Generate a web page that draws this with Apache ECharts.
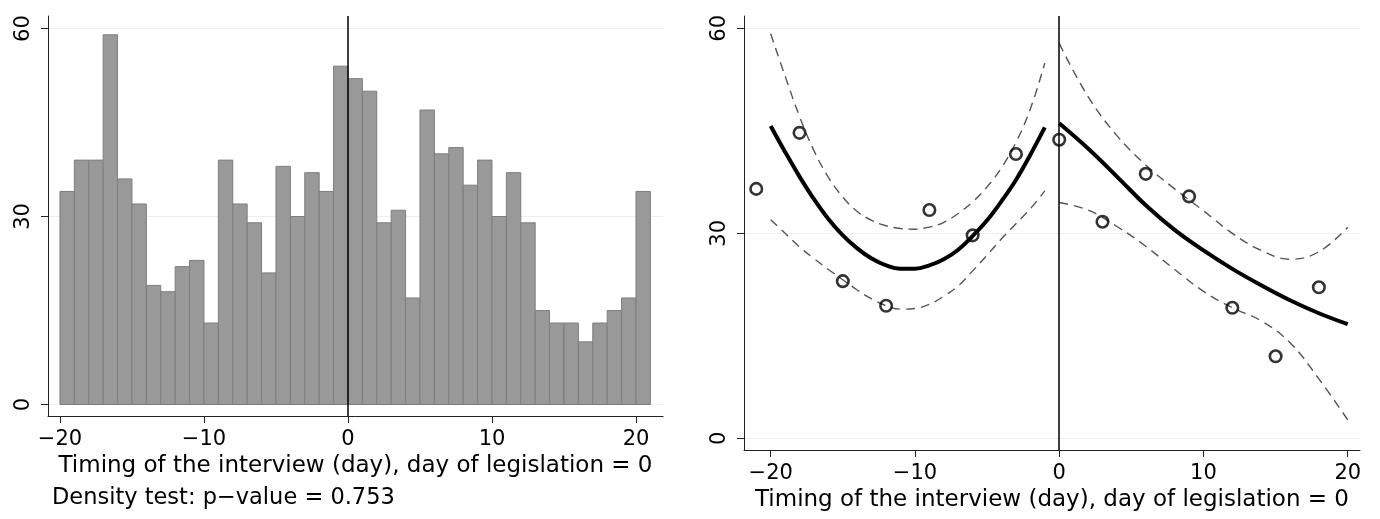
<!DOCTYPE html>
<html>
<head>
<meta charset="utf-8">
<script src="https://cdn.jsdelivr.net/npm/echarts@6/dist/echarts.min.js"></script>
<style>
  html, body { margin: 0; padding: 0; background: #fff; }
  #chart { width: 1380px; height: 519px; }
</style>
</head>
<body>
<div id="chart"></div>
<script>
// histogram: one bin per day, starting day of each bin
var binStarts = [-20, -19, -18, -17, -16, -15, -14, -13, -12, -11, -10, -9, -8, -7, -6, -5, -4, -3, -2, -1,
                 0, 1, 2, 3, 4, 5, 6, 7, 8, 9, 10, 11, 12, 13, 14, 15, 16, 17, 18, 19, 20];
var binCounts = [34, 39, 39, 59, 36, 32, 19, 18, 22, 23, 13, 39, 32, 29, 21, 38, 30, 37, 34, 54,
                 52, 50, 29, 31, 17, 47, 40, 41, 35, 39, 30, 37, 29, 15, 13, 13, 10, 13, 15, 17, 34];

// binned means (right panel)
var binX = [-21, -18, -15, -12, -9, -6, -3, 0, 3, 6, 9, 12, 15, 18];
var binY = [36.5, 44.7, 23.0, 19.4, 33.4, 29.7, 41.6, 43.7, 31.7, 38.7, 35.4, 19.1, 12.0, 22.1];

// fitted curve before the legislation, with its bands
var leftX = [-20, -19, -18, -17, -16, -15, -14, -13, -12, -11, -10, -9, -8, -7, -6, -5, -4, -3, -2, -1];
var leftFit = [45.7, 41.9, 38.3, 35.0, 32.1, 29.7, 27.8, 26.3, 25.3, 24.8, 24.8, 25.3, 26.2, 27.6, 29.6, 31.9, 34.7, 37.8, 41.5, 45.5];
var leftHi = [59.2, 53.0, 47.1, 42.1, 38.2, 35.3, 33.2, 31.9, 31.1, 30.7, 30.6, 30.9, 31.6, 32.9, 34.6, 36.8, 39.6, 43.3, 48.2, 54.9];
var leftLo = [32.0, 30.0, 28.0, 26.3, 24.7, 23.2, 21.7, 20.4, 19.4, 18.9, 19.0, 19.6, 20.8, 22.3, 24.5, 26.8, 29.2, 31.4, 33.6, 36.2];

// fitted curve after the legislation, with its bands
var rightX = [0, 2, 4, 6, 8, 10, 12, 14, 16, 18, 20];
var rightFit = [46.1, 42.4, 38.3, 34.1, 30.5, 27.5, 24.8, 22.4, 20.2, 18.3, 16.7];
var rightHi = [57.8, 50.0, 44.3, 40.0, 36.5, 33.3, 30.0, 27.5, 26.2, 27.3, 30.9];
var rightLo = [34.5, 33.4, 31.0, 28.1, 24.7, 21.5, 19.1, 17.2, 14.0, 8.7, 2.7];

var xTicks = [-20, -10, 0, 10, 20];
var yTicks = [0, 30, 60];
var xTitle = "Timing of the interview (day), day of legislation = 0";
var densityNote = "Density test: p\u2212value = 0.753";

var FONT = "'DejaVu Sans', 'Liberation Sans', Arial, sans-serif";

function pairs(xs, ys) {
  return xs.map(function (x, i) { return [x, ys[i]]; });
}
function minusFmt(v) {
  return String(v).replace("-", "\u2212");
}

function makeX(idx, min, max) {
  return {
    type: "value", gridIndex: idx, min: min, max: max,
    name: xTitle, nameLocation: "middle", nameGap: 35,
    nameTextStyle: { fontSize: 23, color: "#000", fontFamily: FONT },
    axisLine: { show: true, onZero: false, lineStyle: { color: "#222", width: 1 } },
    axisTick: { show: true, length: 7, customValues: xTicks, lineStyle: { color: "#222" } },
    axisLabel: { customValues: xTicks, formatter: minusFmt, margin: 13, fontSize: 21, color: "#000", fontFamily: FONT },
    splitLine: { show: false }
  };
}
function makeY(idx, min, max) {
  return {
    type: "value", gridIndex: idx, min: min, max: max,
    axisLine: { show: true, onZero: false, lineStyle: { color: "#222", width: 1 } },
    axisTick: { show: true, length: 7, customValues: yTicks, lineStyle: { color: "#222" } },
    axisLabel: { customValues: yTicks, rotate: 90, margin: 14, fontSize: 21, color: "#000", fontFamily: FONT },
    splitLine: { show: true, lineStyle: { color: "#e8f0f2", width: 1.2 } }
  };
}

var zeroLine = {
  silent: true, symbol: "none", label: { show: false },
  lineStyle: { color: "#000", width: 1.5, type: "solid" },
  data: [{ xAxis: 0 }]
};

function band(xs, ys, idx) {
  return {
    type: "line", xAxisIndex: idx, yAxisIndex: idx, data: pairs(xs, ys),
    smooth: 0.4, showSymbol: false, symbol: "none",
    lineStyle: { color: "#555", width: 1.4, type: [9, 6] }, z: 3
  };
}
function fit(xs, ys, idx) {
  return {
    type: "line", xAxisIndex: idx, yAxisIndex: idx, data: pairs(xs, ys),
    smooth: 0.4, showSymbol: false, symbol: "none",
    lineStyle: { color: "#000", width: 4 }, z: 4
  };
}

var chart = echarts.init(document.getElementById("chart"));
var option = {
  animation: false,
  backgroundColor: "#fff",
  textStyle: { fontFamily: FONT },
  grid: [
    { left: 48, top: 16, width: 615, height: 400 },
    { left: 744, top: 16, width: 616, height: 434 }
  ],
  xAxis: [makeX(0, -20.83, 21.875), makeX(1, -21.85, 20.85)],
  yAxis: [makeY(0, -1.84, 62), makeY(1, -1.71, 61.8)],
  graphic: [{
    type: "text", left: 52, top: 487,
    style: { text: densityNote, fontSize: 22.5, fill: "#000", fontFamily: FONT }
  }],
  series: [
    {
      type: "custom", xAxisIndex: 0, yAxisIndex: 0,
      data: binStarts.map(function (b, i) { return [b, b + 1, binCounts[i]]; }),
      encode: { x: [0, 1], y: 2 },
      renderItem: function (params, api) {
        var p0 = api.coord([api.value(0), 0]);
        var p1 = api.coord([api.value(1), api.value(2)]);
        return {
          type: "rect",
          shape: { x: p0[0], y: p1[1], width: p1[0] - p0[0], height: p0[1] - p1[1] },
          style: { fill: "#999999", stroke: "#7e7e7e", lineWidth: 1 }
        };
      },
      markLine: zeroLine, z: 2
    },
    band(leftX, leftHi, 1),
    band(leftX, leftLo, 1),
    band(rightX, rightHi, 1),
    band(rightX, rightLo, 1),
    fit(leftX, leftFit, 1),
    fit(rightX, rightFit, 1),
    {
      type: "scatter", xAxisIndex: 1, yAxisIndex: 1, data: pairs(binX, binY),
      symbol: "circle", symbolSize: 11.5,
      itemStyle: { color: "rgba(255,255,255,0)", borderColor: "#000", borderWidth: 2.6 },
      markLine: zeroLine, z: 5
    }
  ]
};
chart.setOption(option);
</script>
</body>
</html>
